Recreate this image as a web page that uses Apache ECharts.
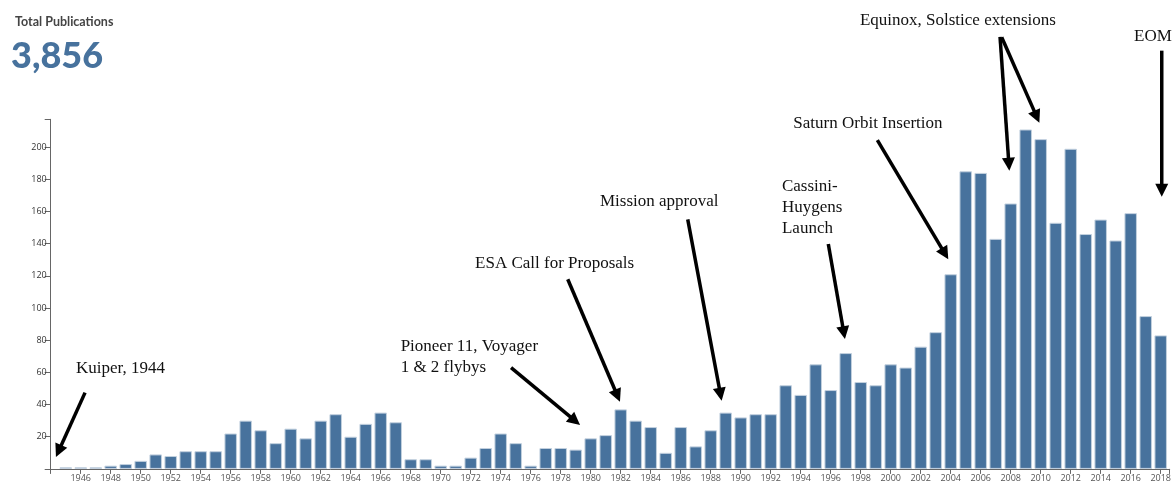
<!DOCTYPE html>
<html>
<head>
<meta charset="utf-8">
<script src="https://cdn.jsdelivr.net/npm/echarts@6/dist/echarts.min.js"></script>
<style>
html,body{margin:0;padding:0;background:#fff;}
#chart{width:1176px;height:486px;}
</style>
</head>
<body>
<div id="chart"></div>
<script>
// ---- data ----
const years = [1945,1946,1947,1948,1949,1950,1951,1952,1953,1954,1955,1956,1957,1958,1959,1960,1961,1962,1963,1964,1965,1966,1967,1968,1969,1970,1971,1972,1973,1974,1975,1976,1977,1978,1979,1980,1981,1982,1983,1984,1985,1986,1987,1988,1989,1990,1991,1992,1993,1994,1995,1996,1997,1998,1999,2000,2001,2002,2003,2004,2005,2006,2007,2008,2009,2010,2011,2012,2013,2014,2015,2016,2017,2018];
const publications = [1,1,1,2,3,5,9,8,11,11,11,22,30,24,16,25,19,30,34,20,28,35,29,6,6,2,2,7,13,22,16,2,13,13,12,19,21,37,30,26,10,26,14,24,35,32,34,34,52,46,65,49,72,54,52,65,63,76,85,121,185,184,143,165,211,205,153,199,146,155,142,159,95,83];
const yTickValues = [20,40,60,80,100,120,140,160,180,200];

// annotation texts and their anchor points in data coordinates [year, count]
const annoTexts = ['Kuiper, 1944','Pioneer 11, Voyager\n1 & 2 flybys','ESA Call for Proposals','Mission approval','Cassini-\nHuygens\nLaunch','Saturn Orbit Insertion','Equinox, Solstice extensions','EOM'];
const annoTextAt = [[1945.69,62.1],[1967.33,69.6],[1972.29,127.4],[1980.62,166.1],[1992.75,162.6],[1993.51,214.4],[1997.95,278.6],[2016.22,268.6]];
// arrows: [tail, tip]
const arrows = [
  [[1946.29,47.4],[1944.35,7.4]],
  [[1974.69,62.9],[1979.29,27.3]],
  [[1978.47,117.9],[1981.95,41.8]],
  [[1986.47,155.1],[1988.73,42.4]],
  [[1995.84,139.8],[1996.95,80.7]],
  [[1999.11,204.4],[2003.84,130.3]],
  [[2007.29,268.6],[2007.91,185.4]],
  [[2007.40,268.3],[2009.91,215.2]],
  [[2018.07,260.0],[2018.07,169.2]]
];

const total = publications.reduce((a,b)=>a+b,0);
const maxVal = Math.max.apply(null, publications);

const chart = echarts.init(document.getElementById('chart'), null, {renderer:'canvas'});
const barColor = '#47729d';

const option = {
  animation:false,
  title:[
    {text:'Total Publications', left:10, top:10, textStyle:{fontFamily:'Lato', fontWeight:'bold', fontSize:12.5, color:'#444'}},
    {text:total.toLocaleString('en-US'), left:6, top:33, textStyle:{fontFamily:'Lato', fontWeight:'900', fontSize:36, color:barColor}}
  ],
  grid:{left:50.7, right:6.3, top:119.3, bottom:17.1, containLabel:false},
  xAxis:{
    type:'value', min:1944, max:2018.6, interval:2,
    axisLine:{show:true, lineStyle:{color:'#666', width:1}},
    axisTick:{show:true, length:5, lineStyle:{color:'#666'}},
    splitLine:{show:false},
    axisLabel:{fontFamily:'Open Sans', fontSize:9, color:'#555', margin:5,
      formatter:function(v){ return (Number.isInteger(v) && v!==1944) ? String(v) : ''; }}
  },
  yAxis:{
    type:'value', min:0, max:+(maxVal*1.03).toFixed(2), interval:20,
    axisLine:{show:true, lineStyle:{color:'#666', width:1}},
    axisTick:{show:true, length:6, lineStyle:{color:'#666'}},
    splitLine:{show:false},
    axisLabel:{fontFamily:'Open Sans', fontSize:9, color:'#333', margin:4,
      formatter:function(v){ return yTickValues.indexOf(v)>=0 ? String(v) : ''; }}
  },
  series:[{
    type:'bar',
    data: years.map((y,i)=>[y, publications[i]]),
    barWidth:12.5,
    itemStyle:{color:barColor, borderColor:'#c3d1df', borderWidth:1},
    clip:false
  }]
};
chart.setOption(option);

// annotations
const els = [];
annoTexts.forEach((t,i)=>{
  const p = chart.convertToPixel({gridIndex:0}, annoTextAt[i]);
  els.push({type:'text', silent:true, style:{text:t, x:p[0], y:p[1], fill:'#111',
    font:'17px "Liberation Serif"', align:'left', verticalAlign:'middle', lineHeight:21}});
});
arrows.forEach(a=>{
  const p0 = chart.convertToPixel({gridIndex:0}, a[0]);
  const p1 = chart.convertToPixel({gridIndex:0}, a[1]);
  const dx = p1[0]-p0[0], dy = p1[1]-p0[1];
  const L = Math.sqrt(dx*dx+dy*dy);
  const ux = dx/L, uy = dy/L;
  const hl = 13, hw = 6.5;
  const bx = p1[0]-ux*hl, by = p1[1]-uy*hl;
  els.push({type:'line', silent:true, shape:{x1:p0[0], y1:p0[1], x2:bx+ux*2, y2:by+uy*2},
    style:{stroke:'#000', lineWidth:3.5}});
  els.push({type:'polygon', silent:true, shape:{points:[[p1[0],p1[1]],[bx-uy*hw, by+ux*hw],[bx+uy*hw, by-ux*hw]]},
    style:{fill:'#000'}});
});
chart.setOption({graphic:els});
</script>
</body>
</html>
